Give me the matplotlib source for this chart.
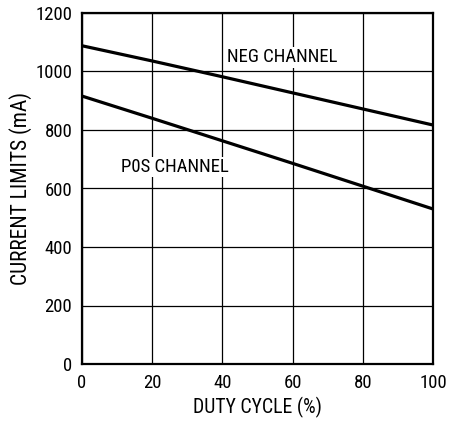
import matplotlib
matplotlib.use("Agg")
import matplotlib.pyplot as plt
from matplotlib import font_manager

names = {f.name for f in font_manager.fontManager.ttflist}
fam = [f for f in ['Roboto Condensed', 'Archivo Narrow', 'Liberation Sans'] if f in names] + ['DejaVu Sans']
plt.rcParams['font.family'] = fam

duty = [0, 20, 40, 60, 80, 100]
neg_channel = [1088, 1036, 982, 927, 872, 817]
pos_channel = [916, 840, 763, 686, 608, 530]
xticks = [0, 20, 40, 60, 80, 100]
yticks = [0, 200, 400, 600, 800, 1000, 1200]

fig = plt.figure(figsize=(4.64, 4.24), dpi=100)
ax = fig.add_axes([82/464, 1-364/424, 351/464, 351/424])
ax.plot(duty, neg_channel, color='black', lw=2.3, solid_capstyle='butt')
ax.plot(duty, pos_channel, color='black', lw=2.3, solid_capstyle='butt')
ax.set_xlim(0, 100)
ax.set_ylim(0, 1200)
ax.set_xticks(xticks)
ax.set_yticks(yticks)
ax.grid(True, color='black', lw=0.9)
ax.tick_params(length=0, labelsize=13.5, pad=7)
for s in ax.spines.values():
    s.set_linewidth(1.6)
ax.set_xlabel('DUTY CYCLE (%)', fontsize=14.2, labelpad=4)
ax.set_ylabel('CURRENT LIMITS (mA)', fontsize=15.5, labelpad=2)
ax.text(57, 1048, 'NEG CHANNEL', fontsize=13.5, ha='center', va='center',
        bbox=dict(facecolor='white', edgecolor='none', pad=1))
ax.text(26.5, 673, 'P0S CHANNEL', fontsize=13.5, ha='center', va='center',
        bbox=dict(facecolor='white', edgecolor='none', pad=1))
fig.savefig('out.png', dpi=100)
